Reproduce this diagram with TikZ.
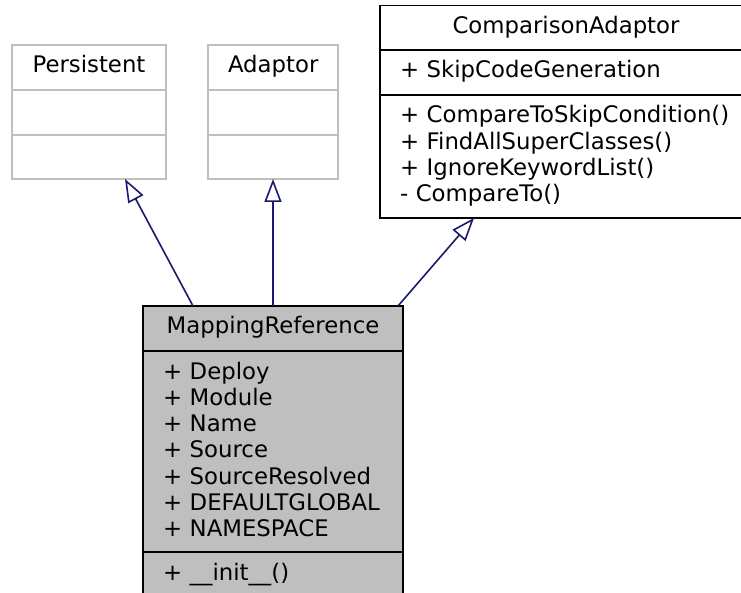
\documentclass[tikz,border=0pt]{standalone}
\usepackage{fontspec}
\setmainfont{DejaVu Sans}
\usepackage{tikz}
\usetikzlibrary{arrows.meta, positioning}
\definecolor{edgeblue}{RGB}{25,25,112}
\definecolor{classgray}{RGB}{191,191,191}

\begin{document}
\begin{tikzpicture}[
      x=1pt, y=-1pt,
      font=\fontsize{22.8}{26.3}\selectfont,
      classpart/.style={rectangle, draw, line width=1.6pt, outer sep=0pt, inner xsep=20pt, inner ysep=0pt, align=left, text height=28pt},
      classname/.style={classpart, align=center},
      parth/.style={minimum height=#1, text depth=#1-28pt},
      greyclass/.style={draw=classgray},
      mainclass/.style={draw=black, fill=classgray},
      inherit/.style={draw=edgeblue, line width=1.6pt, -{Triangle[open, length=23pt, width=17pt]}}
    ]
      \useasboundingbox (0,0) rectangle (741,593);

      % Base classes
      \node[classname, greyclass, text width=114pt, parth=45pt, anchor=north west] (persistent) at (12,45) {Persistent};
      \node[classpart, greyclass, text width=114pt, parth=45pt, below=0pt of persistent] (persistentattr) {};
      \node[classpart, greyclass, text width=114pt, parth=44pt, below=0pt of persistentattr] (persistentops) {};

      \node[classname, greyclass, text width=90pt, parth=45pt, anchor=north west] (adaptor) at (208,45) {Adaptor};
      \node[classpart, greyclass, text width=90pt, parth=45pt, below=0pt of adaptor] (adaptorattr) {};
      \node[classpart, greyclass, text width=90pt, parth=44pt, below=0pt of adaptorattr] (adaptorops) {};

      \node[classname, text width=332pt, parth=44.5pt, anchor=north west] (cmpadaptor) at (380,5.5) {ComparisonAdaptor};
      \node[classpart, text width=332pt, parth=45pt, below=0pt of cmpadaptor] (cmpattr) {+~SkipCodeGeneration};
      \node[classpart, text width=332pt, parth=123pt, below=0pt of cmpattr] (cmpops) {+~CompareToSkipCondition()\\+~FindAllSuperClasses()\\+~IgnoreKeywordList()\\-~CompareTo()};

      % Derived class
      \node[classname, mainclass, text width=220pt, parth=45pt, anchor=north west] (mapref) at (143,306) {MappingReference};
      \node[classpart, mainclass, text width=220pt, parth=201pt, below=0pt of mapref] (maprefattr) {+~Deploy\\+~Module\\+~Name\\+~Source\\+~SourceResolved\\+~DEFAULTGLOBAL\\+~NAMESPACE};
      \node[classpart, mainclass, text width=220pt, parth=45pt, below=0pt of maprefattr] (maprefops) {+~\_\_init\_\_()};

      % Inheritance
      \draw[inherit] ([xshift=-80pt]mapref.north) -- ([xshift=36pt]persistentops.south);
      \draw[inherit] (mapref.north) -- (adaptorops.south);
      \draw[inherit] ([xshift=125pt]mapref.north) -- ([xshift=-92pt]cmpops.south);

    \end{tikzpicture}
\end{document}
